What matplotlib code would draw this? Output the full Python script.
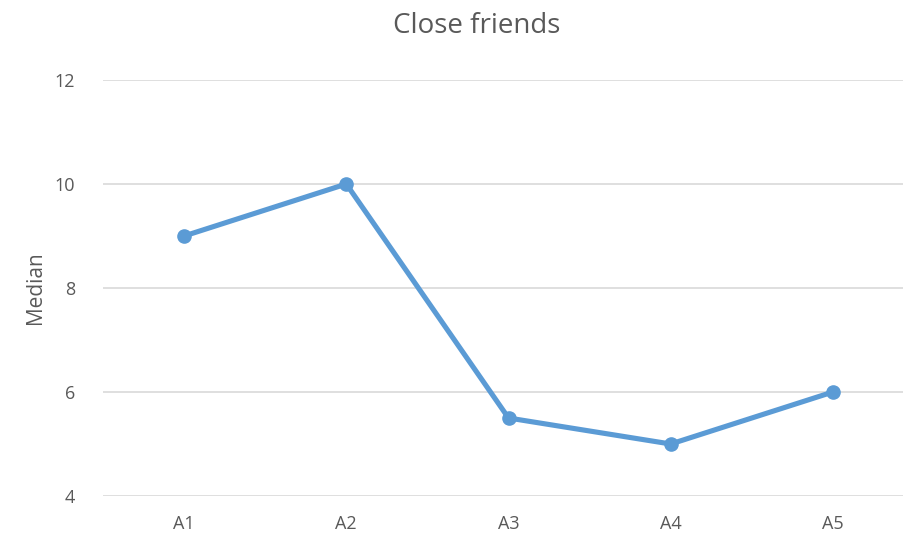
import matplotlib.pyplot as plt

categories = ['A1', 'A2', 'A3', 'A4', 'A5']
median = [9, 10, 5.5, 5, 6]
yticks = [4, 6, 8, 10, 12]

plt.rcParams['font.family'] = ['Open Sans', 'DejaVu Sans']
text_col = '#595959'

fig = plt.figure(figsize=(9.04, 5.37), dpi=100)
ax = fig.add_axes([103 / 904, 1 - 496 / 537, 811 / 904, 416 / 537])

x = list(range(len(categories)))
ax.plot(x, median, color='#5B9BD5', lw=3.7, marker='o', ms=9.5,
        solid_capstyle='round', zorder=3)

ax.set_xlim(-0.5, len(categories) - 0.5)
ax.set_ylim(4, 12)
ax.set_xticks(x)
ax.set_xticklabels(categories)
ax.set_yticks(yticks)
ax.yaxis.grid(True, color='#D9D9D9', lw=1.2)
ax.set_axisbelow(True)
for s in ax.spines.values():
    s.set_visible(False)
ax.tick_params(length=0, labelsize=13, colors=text_col)
ax.tick_params(axis='y', pad=20)
ax.tick_params(axis='x', pad=14)
ax.set_ylabel('Median', fontsize=15, color=text_col, labelpad=6)
fig.text(477 / 904, 1 - 26 / 537, 'Close friends', ha='center', va='center',
         fontsize=20, color=text_col)

fig.savefig('out.png', dpi=100)
